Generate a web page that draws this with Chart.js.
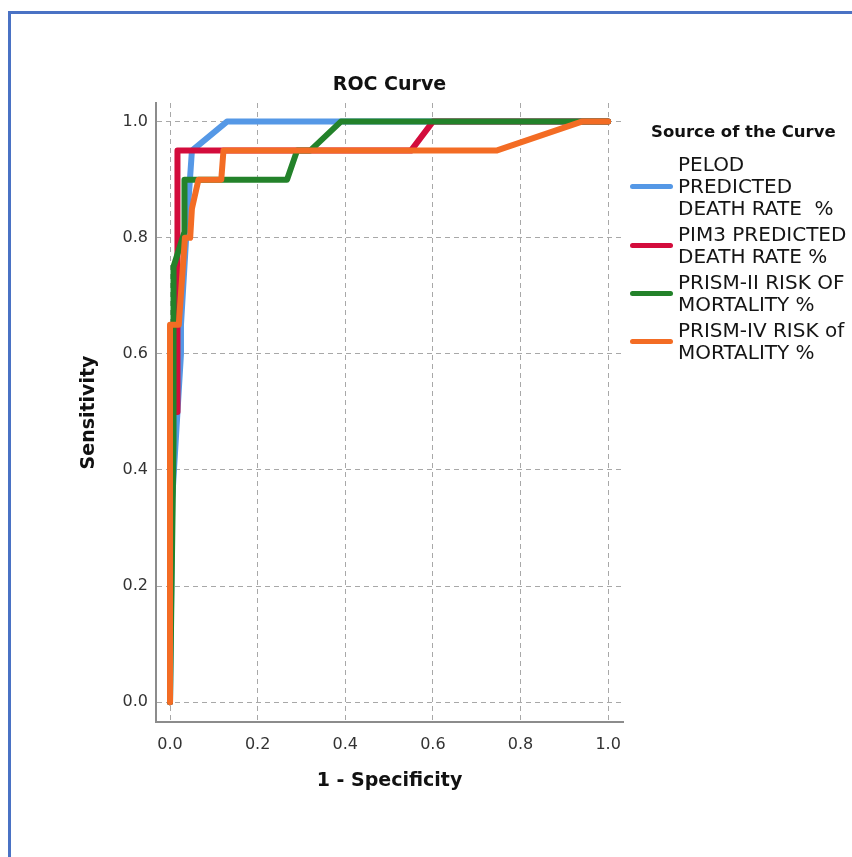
<!DOCTYPE html>
<html lang="en">
<head>
  <meta charset="UTF-8">
  <title>ROC Curve</title>
  <script src="https://cdn.jsdelivr.net/npm/chart.js"></script>
  <style>
    body {
      margin: 0;
      width: 852px;
      height: 857px;
      overflow: hidden;
      background: #ffffff;
      font-family: 'DejaVu Sans', sans-serif;
      position: relative;
    }

    #frame {
      position: absolute;
      left: 8px;
      top: 11px;
      width: 900px;
      height: 900px;
      border-left: 3px solid #4a72c4;
      border-top: 3px solid #4a72c4;
    }

    #wrap {
      position: absolute;
      left: 0;
      top: 0;
      width: 852px;
      height: 857px;
    }

    #legend {
      position: absolute;
      left: 630px;
      top: 122px;
      white-space: nowrap;
    }

    .lg-title {
      margin-left: 21px;
      font-size: 16.5px;
      font-weight: bold;
      line-height: 20px;
      color: #111;
      margin-bottom: 11px;
    }

    .item {
      display: flex;
      align-items: center;
      margin-bottom: 4px;
    }

    .swatch {
      width: 43px;
      height: 5px;
      border-radius: 3px;
      margin-right: 5px;
      flex: none;
    }

    .item-text {
      font-size: 20px;
      line-height: 22px;
      color: #151515;
    }
  </style>
</head>
<body>
  <div id="frame"></div>
  <div id="wrap"><canvas id="roc"></canvas></div>
  <div id="legend">
    <div class="lg-title">Source of the Curve</div>
    <div id="items"></div>
  </div>

  <script>
    // values (1 - specificity, sensitivity)
    const pelodX = [0, 0.005, 0.025, 0.025, 0.04, 0.05, 0.13, 1];
    const pelodY = [0, 0.35, 0.6, 0.65, 0.84, 0.95, 1, 1];

    const pim3X = [0, 0, 0.017, 0.017, 0.55, 0.6, 1];
    const pim3Y = [0, 0.5, 0.5, 0.95, 0.95, 1, 1];

    const prism2X = [0, 0.008, 0.008, 0.033, 0.033, 0.267, 0.29, 0.32, 0.39, 1];
    const prism2Y = [0, 0.45, 0.75, 0.81, 0.9, 0.9, 0.95, 0.95, 1, 1];

    const prism4X = [0, 0, 0.02, 0.034, 0.046, 0.05, 0.065, 0.117, 0.122, 0.745, 0.94, 1];
    const prism4Y = [0, 0.65, 0.65, 0.8, 0.8, 0.85, 0.9, 0.9, 0.95, 0.95, 1, 1];

    const curveNames = [
      ["PELOD", "PREDICTED", "DEATH RATE  %"],
      ["PIM3 PREDICTED", "DEATH RATE %"],
      ["PRISM-II RISK OF", "MORTALITY %"],
      ["PRISM-IV RISK of", "MORTALITY %"]
    ];
    const curveColors = ["#5598e6", "#d30c3c", "#23822a", "#f36c24"];

    const xTicks = [0, 0.2, 0.4, 0.6, 0.8, 1.0];
    const yTicks = [0, 0.2, 0.4, 0.6, 0.8, 1.0];

    function toPoints(xs, ys) {
      return xs.map((x, i) => ({ x: x, y: ys[i] }));
    }

    const series = [
      toPoints(pelodX, pelodY),
      toPoints(pim3X, pim3Y),
      toPoints(prism2X, prism2Y),
      toPoints(prism4X, prism4Y)
    ];

    const datasets = series.map((pts, i) => ({
      label: curveNames[i].join(' '),
      data: pts,
      borderColor: curveColors[i],
      backgroundColor: curveColors[i],
      borderWidth: 6,
      borderCapStyle: 'round',
      borderJoinStyle: 'round',
      pointRadius: 0,
      tension: 0,
      fill: false,
      order: series.length - i
    }));

    const tickFont = { family: "'DejaVu Sans', sans-serif", size: 16 };
    const titleFont = { family: "'DejaVu Sans', sans-serif", size: 19, weight: 'bold' };

    new Chart(document.getElementById('roc'), {
      type: 'line',
      data: { datasets: datasets },
      options: {
        responsive: true,
        maintainAspectRatio: false,
        animation: false,
        layout: { padding: { left: 0, right: 229, top: 73.6, bottom: 0 } },
        plugins: {
          legend: { display: false },
          tooltip: { enabled: false },
          title: {
            display: true,
            text: 'ROC Curve',
            fullSize: false,
            color: '#111',
            font: titleFont,
            padding: { top: 0, bottom: 6.6 }
          }
        },
        scales: {
          x: {
            type: 'linear',
            min: -0.032,
            max: 1.034,
            afterBuildTicks: s => { s.ticks = xTicks.map(v => ({ value: v })); },
            afterFit: s => { s.height = 135; },
            ticks: {
              color: '#333',
              font: tickFont,
              padding: 13,
              callback: v => v.toFixed(1)
            },
            grid: { color: '#a8a8a8', drawTicks: false },
            border: { display: true, color: '#8c8c8c', width: 2, dash: [5, 4] },
            title: {
              display: true,
              text: '1 - Specificity',
              color: '#111',
              font: titleFont,
              padding: { top: 0, bottom: 65 }
            }
          },
          y: {
            type: 'linear',
            min: -0.034,
            max: 1.032,
            afterBuildTicks: s => { s.ticks = yTicks.map(v => ({ value: v })); },
            afterFit: s => { s.width = 156; },
            ticks: {
              color: '#333',
              font: tickFont,
              padding: 8,
              callback: v => v.toFixed(1)
            },
            grid: { color: '#a8a8a8', drawTicks: false },
            border: { display: true, color: '#8c8c8c', width: 2, dash: [5, 4] },
            title: {
              display: true,
              text: 'Sensitivity',
              color: '#111',
              font: titleFont,
              padding: { top: 78, bottom: 0 }
            }
          }
        }
      }
    });

    // legend built from the same names and colours
    const items = document.getElementById('items');
    curveNames.forEach((lines, i) => {
      const row = document.createElement('div');
      row.className = 'item';
      row.innerHTML = `<span class="swatch" style="background:${curveColors[i]}"></span>` +
        `<span class="item-text">${lines.join('<br>').replace(/  /g, ' &nbsp;')}</span>`;
      items.appendChild(row);
    });
  </script>
</body>
</html>
